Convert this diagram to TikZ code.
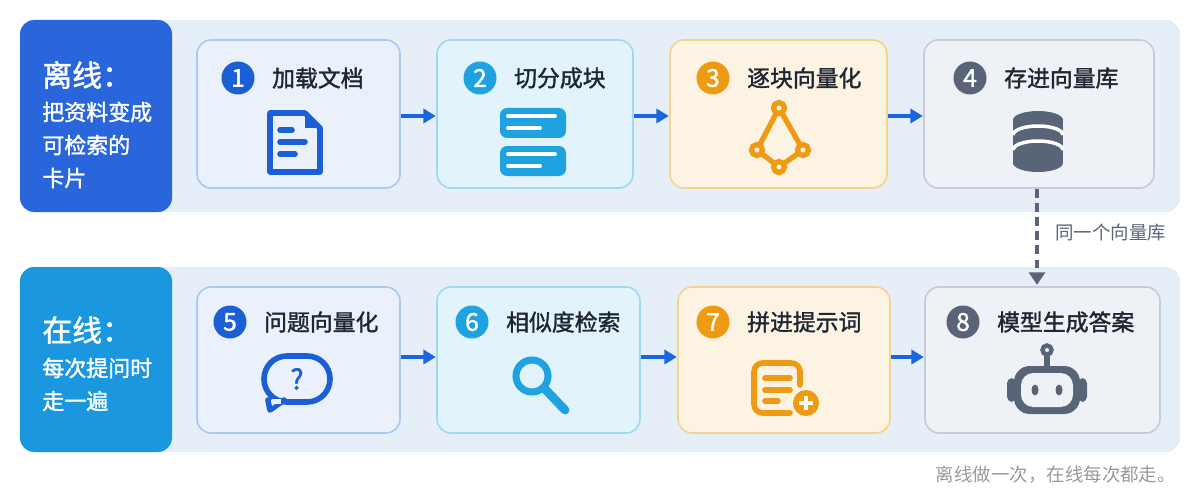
\documentclass[tikz,border=0pt]{standalone}
\usepackage{fontspec}
\setmainfont{Noto Sans CJK SC}
\newfontfamily\cjkb{Noto Sans CJK SC}[FakeBold=1.5]
\usetikzlibrary{arrows.meta}
\definecolor{cB}{HTML}{1A5FD6}\definecolor{cBf}{HTML}{EAF1FB}\definecolor{cBd}{HTML}{A9C9F0}
\definecolor{cC}{HTML}{1FA3E0}\definecolor{cCf}{HTML}{E3F3FB}\definecolor{cCd}{HTML}{9FD8F2}
\definecolor{cO}{HTML}{EE9A12}\definecolor{cOf}{HTML}{FDF3E3}\definecolor{cOd}{HTML}{F5D38D}
\definecolor{cG}{HTML}{5A6478}\definecolor{cGf}{HTML}{EEF1F6}\definecolor{cGd}{HTML}{C6CCD6}
\definecolor{band}{HTML}{E6EEF8}\definecolor{lab1}{HTML}{2A66DB}\definecolor{lab2}{HTML}{1A97DF}
\definecolor{txt}{HTML}{1E2633}\definecolor{arr}{HTML}{1A66E0}
\tikzset{
 card/.style={draw=#1d,fill=#1f,rounded corners=8pt,line width=0.9pt},
 badge/.style={circle,fill=#1,minimum size=33*0.02cm,inner sep=0,text=white,font=\cjkb\fontsize{14}{14}\selectfont},
 ttl/.style={anchor=west,text=txt,font=\cjkb\fontsize{13}{13}\selectfont},
 lab/.style={anchor=west,text=white,inner sep=0,font=\cjkb\fontsize{12.5}{14}\selectfont},
 labh/.style={anchor=west,text=white,inner sep=0,font=\cjkb\fontsize{17}{18}\selectfont},
 flow/.style={-{Triangle[length=7pt,width=8pt]},arr,line width=2.2pt},
 ic/.style={line width=3.2pt,line cap=round,line join=round}
}
\begin{document}
\begin{tikzpicture}[x=0.02cm,y=-0.02cm]
\useasboundingbox (0,0) rectangle (1200,500);
\fill[band,rounded corners=8pt] (20,20) rectangle (1180,212);
\fill[band,rounded corners=8pt] (20,267) rectangle (1180,452);
\fill[lab1,rounded corners=8pt] (20,20) rectangle (172,212);
\fill[lab2,rounded corners=8pt] (20,267) rectangle (172,452);
\node[labh] (L1) at (42,75) {离线：};
\node[lab] (L1a) at (42,112) {把资料变成};
\node[lab] (L1b) at (42,145) {可检索的};
\node[lab] (L1c) at (42,178) {卡片};
\node[labh] (L2) at (42,330) {在线：};
\node[lab] (L2a) at (42,368) {每次提问时};
\node[lab] (L2b) at (42,401) {走一遍};
% cards
\draw[card=cB] (197,40) rectangle (400,188);
\draw[card=cC] (437,40) rectangle (633,188);
\draw[card=cO] (670,40) rectangle (887,188);
\draw[card=cG] (924,40) rectangle (1154,188);
\draw[card=cB] (197,287) rectangle (400,433);
\draw[card=cC] (437,287) rectangle (640,433);
\draw[card=cO] (678,287) rectangle (890,433);
\draw[card=cG] (925,287) rectangle (1160,433);
\node[inner sep=0] (k1r) at (400,116){};\node[inner sep=0] (k2l) at (437,116){};
\node[inner sep=0] (k2r) at (633,116){};\node[inner sep=0] (k3l) at (670,116){};
\node[inner sep=0] (k3r) at (887,116){};\node[inner sep=0] (k4l) at (924,116){};
\node[inner sep=0] (k5r) at (400,357){};\node[inner sep=0] (k6l) at (437,357){};
\node[inner sep=0] (k6r) at (640,357){};\node[inner sep=0] (k7l) at (678,357){};
\node[inner sep=0] (k7r) at (890,357){};\node[inner sep=0] (k8l) at (925,357){};
\node[inner sep=0] (k4b) at (1037,188){};\node[inner sep=0] (k8t) at (1037,286){};
\draw[flow] (k1r)--(k2l);\draw[flow] (k2r)--(k3l);\draw[flow] (k3r)--(k4l);
\draw[flow] (k5r)--(k6l);\draw[flow] (k6r)--(k7l);\draw[flow] (k7r)--(k8l);
\draw[cG,line width=2pt,dash pattern=on 5pt off 3pt,-{Triangle[length=7pt,width=9pt]}] (k4b)--(k8t);
\node[anchor=west,text=cG,font=\fontsize{10.5}{10}\selectfont] (same) at (1049,233) {同一个向量库};
\node[anchor=east,text=gray!80,font=\fontsize{10.5}{10}\selectfont] (foot) at (1182,475) {离线做一次，在线每次都走。};
% badges and titles
\node[badge=cB] (b1) at (238,78) {1}; \node[ttl] (t1) at (266,78) {加载文档};
\node[badge=cC] (b2) at (480,78) {2}; \node[ttl] (t2) at (508,78) {切分成块};
\node[badge=cO] (b3) at (713,78) {3}; \node[ttl] (t3) at (741,78) {逐块向量化};
\node[badge=cG] (b4) at (970,78) {4}; \node[ttl] (t4) at (998,78) {存进向量库};
\node[badge=cB] (b5) at (230,322) {5}; \node[ttl] (t5) at (258,322) {问题向量化};
\node[badge=cC] (b6) at (472,322) {6}; \node[ttl] (t6) at (500,322) {相似度检索};
\node[badge=cO] (b7) at (713,322) {7}; \node[ttl] (t7) at (741,322) {拼进提示词};
\node[badge=cG] (b8) at (963,322) {8}; \node[ttl] (t8) at (991,322) {模型生成答案};
% icon 1 doc
\draw[cB,ic] (270,113)--(305,113)--(320,128)--(320,172)--(270,172)--cycle;
\fill[cB] (305,113)--(320,128)--(305,128)--cycle;
\draw[cB,ic] (280,130)--(292,130) (280,142)--(305,142) (280,154)--(295,154);
% icon 2 blocks
\fill[cC,rounded corners=4pt] (500,108) rectangle (566,138);
\fill[cC,rounded corners=4pt] (500,146) rectangle (566,176);
\draw[white,line width=2.2pt,line cap=round] (508,116)--(555,116) (508,128)--(540,128) (508,154)--(555,154) (508,166)--(540,166);
% icon 3 graph
\draw[cO,line width=3pt] (779,108)--(757,150)--(779,167)--(803,150)--cycle;
\foreach \p in {(779,108),(757,150),(779,167),(803,150)} \filldraw[cO,fill=cOf,line width=3pt] \p circle (5.5);
% icon 4 database
\begin{scope}[cG]
\fill (1013,120) rectangle (1063,163);
\fill (1038,163) ellipse (25 and 9);
\fill (1038,120) ellipse (25 and 9);
\draw[white,line width=2pt] (1013,135) arc[start angle=180,end angle=360,x radius=25,y radius=9];
\draw[white,line width=2pt] (1013,150) arc[start angle=180,end angle=360,x radius=25,y radius=9];
\end{scope}
% icon 5 speech bubble
\draw[cB,ic,fill=cBf] (268,400)--(270,410)--(284,400);
\draw[cB,ic,rounded corners=13pt] (264,356) rectangle (330,402);
\fill[cBf] (271,400) -- (281,400) -- (272,406) -- cycle;
\fill[cBf] (272,398.5) rectangle (281,403.5);
\node[text=cB,font=\cjkb\fontsize{16}{16}\selectfont] (q) at (297,379) {?};
% icon 6 magnifier
\draw[cC,line width=4pt] (532,376) circle (16);
\draw[cC,line width=5pt,line cap=round] (544,388)--(565,410);
% icon 7 doc plus
\draw[cO,ic,rounded corners=5pt] (790,413)--(754,413)--(754,363)--(800,363)--(800,385);
\draw[cO,ic] (765,378)--(790,378) (765,390)--(790,390) (765,401)--(778,401);
\fill[cO] (806,403) circle (13);
\draw[white,line width=2.6pt] (806,396)--(806,410) (799,403)--(813,403);
% icon 8 robot
\draw[cG,line width=3pt] (1047,354)--(1047,366);
\draw[cG,line width=2.5pt,fill=cGf] (1047,350) circle (4.5);
\fill[cG,rounded corners=9pt] (1014,366) rectangle (1080,414);
\fill[cG,rounded corners=3pt] (1007,378) rectangle (1016,402);
\fill[cG,rounded corners=3pt] (1078,378) rectangle (1087,402);
\fill[cGf,rounded corners=7pt] (1021,373) rectangle (1073,407);
\fill[cG] (1035,390) ellipse (3.5 and 5.5);
\fill[cG] (1059,390) ellipse (3.5 and 5.5);
\end{tikzpicture}
\end{document}
